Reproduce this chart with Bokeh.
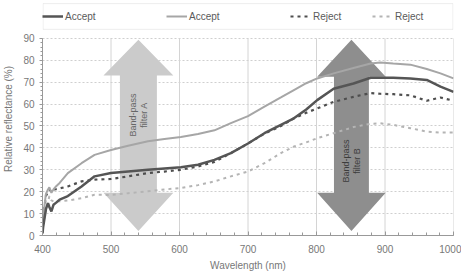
import numpy as np
from bokeh.plotting import figure
from bokeh.models import Range1d, SingleIntervalTicker, FixedTicker, Legend, LegendItem, BoxAnnotation, ColumnDataSource
from bokeh.core.properties import value
from bokeh.embed import file_html
from bokeh.resources import INLINE

# ---- data ----
wavelength = [400, 401, 405, 408, 410, 413, 416, 420, 425, 437, 457, 476, 500, 525, 554, 578,
              602, 627, 651, 675, 700, 724, 748, 767, 785, 801, 825, 854, 879, 893, 912, 937,
              961, 981, 1000]
accept_dark = [1, 4, 12, 14.8, 13, 11, 14, 15, 16.4, 18, 22.4, 27, 28.5, 29.2, 30, 30.6,
               31.2, 32.3, 34.5, 37.6, 42, 46.7, 50.5, 53.5, 57.5, 61.8, 67, 69.4, 72, 72, 72, 71.7,
               71, 68, 65.6]
accept_light = [2, 9, 19, 21, 22, 19.5, 21, 22.5, 24, 28.5, 33, 36.8, 39, 41, 43, 44,
                45, 46.3, 48, 51.3, 54.5, 58.8, 63, 66.4, 69.5, 71.7, 74, 76.5, 78.5, 79, 78.5, 78,
                76, 74, 71.7]
reject_dark = [2, 8.8, 18, 20, 21, 20, 21, 21.2, 21.5, 22.4, 24.7, 25.5, 25.8, 27, 28.5, 29.2,
               30, 31.5, 33.6, 37.6, 42, 46.5, 50, 53.5, 56, 58, 61, 63.3, 65, 64.7, 64.5, 64,
               61.5, 63, 61.5]
reject_light = [1, 5.6, 11.8, 15, 18, 16, 15.6, 15.6, 15.6, 16, 17, 18.6, 18.5, 19.3, 20.2, 21,
                21.7, 23, 24.7, 27, 29.2, 33, 37.6, 40.6, 42.5, 44.4, 46.7, 49.5, 51, 51.2, 50.5, 49,
                47.4, 47, 47]
series_labels = ["Accept", "Accept", "Reject", "Reject"]
x_ticks = [400, 500, 600, 700, 800, 900, 1000]
y_ticks = [0, 10, 20, 30, 40, 50, 60, 70, 80, 90]
arrow_labels = ["Band-pass\nfilter A", "Band-pass\nfilter B"]

FONT = "Liberation Sans"
Y_MIN, Y_MAX = 0, 90
# frame extends above the plot area to hold the legend box
Y_TOP = Y_MAX + 16.36

p = figure(width=461, height=273, x_range=Range1d(400, 1000), y_range=Range1d(Y_MIN, Y_TOP),
           output_backend="svg", toolbar_location=None,
           min_border_left=41, min_border_right=8, min_border_top=2, min_border_bottom=37)
p.outline_line_color = None
p.background_fill_color = "white"
p.border_fill_color = "white"

# grids
p.xgrid.visible = False
p.segment(x0=x_ticks[1:], y0=Y_MIN, x1=x_ticks[1:], y1=Y_MAX, line_color="#d4d4d4", line_width=1)
p.ygrid.grid_line_color = "#cfcfcf"
p.ygrid.grid_line_dash = "2 2"

# axes
p.xaxis.ticker = SingleIntervalTicker(interval=100, num_minor_ticks=5)
p.yaxis.ticker = FixedTicker(ticks=y_ticks, minor_ticks=list(range(Y_MIN, Y_MAX + 1, 2)))
p.yaxis.bounds = (Y_MIN, Y_MAX)
for ax in (p.xaxis, p.yaxis):
    ax.axis_line_color = "#999999"
    ax.major_tick_line_color = "#999999"
    ax.minor_tick_line_color = "#999999"
    ax.major_label_text_color = "#777777"
    ax.major_label_text_font = FONT
    ax.major_label_text_font_size = "10px"
    ax.axis_label_text_color = "#777777"
    ax.axis_label_text_font = FONT
    ax.axis_label_text_font_size = "10px"
    ax.axis_label_text_font_style = "normal"
p.xaxis.major_tick_in = 4
p.xaxis.major_tick_out = 0
p.xaxis.minor_tick_in = 3
p.xaxis.minor_tick_out = 0
p.xaxis.major_label_standoff = 9
p.xaxis.axis_label_standoff = 4
p.yaxis.major_tick_in = 0
p.yaxis.major_tick_out = 3
p.yaxis.minor_tick_in = 0
p.yaxis.minor_tick_out = 2
p.yaxis.major_label_standoff = 5
p.yaxis.axis_label_standoff = 6
p.xaxis.axis_label = "Wavelength (nm)"
p.yaxis.axis_label = "Relative reflectance (%)"


def arrow(cx, hs, hh, top_tip, top_base, bot_base, bot_tip):
    xs = [cx - hh, cx, cx + hh, cx + hs, cx + hs, cx + hh, cx, cx - hh, cx - hs, cx - hs]
    ys = [top_base, top_tip, top_base, top_base, bot_base, bot_base, bot_tip, bot_base, bot_base, top_base]
    return xs, ys

ax_, ay_ = arrow(540, 27, 51, 89.4, 73, 19.5, 2)
bx_, by_ = arrow(851, 25.5, 50, 89.4, 72.5, 19.5, 2)
p.patch(ax_, ay_, fill_color="#cbcbcb", line_color=None)
p.patch(bx_, by_, fill_color="#8e8e8e", line_color=None)

p.text(x=[540], y=[55], text=[arrow_labels[0]], angle=np.pi / 2, text_align="center",
       text_baseline="middle", text_font=value(FONT), text_font_size="9px", text_color="#666666",
       text_line_height=1.1)
p.text(x=[851], y=[34], text=[arrow_labels[1]], angle=np.pi / 2, text_align="center",
       text_baseline="middle", text_font=value(FONT), text_font_size="9px", text_color="#3c3c3c",
       text_line_height=1.1)

src = ColumnDataSource(dict(x=wavelength, ad=accept_dark, al=accept_light, rd=reject_dark, rl=reject_light))
r_rl = p.line("x", "rl", source=src, line_color="#b4b4b4", line_width=2, line_dash="3 4")
r_rd = p.line("x", "rd", source=src, line_color="#4e4e4e", line_width=2.2, line_dash="3 4")
r_al = p.line("x", "al", source=src, line_color="#a6a6a6", line_width=2)
r_ad = p.line("x", "ad", source=src, line_color="#555555", line_width=2.5)

# legend box (in data units of the extended frame)
p.add_layout(BoxAnnotation(left=400.8, right=999.2, bottom=Y_MAX + 4.1, top=Y_TOP - 0.5,
                           fill_alpha=0, line_color="#c4c4c4", line_width=1, level="overlay"))

renderers = [r_ad, r_al, r_rd, r_rl]
offsets = [0, 124, 248, 330]
for lab, r, off in zip(series_labels, renderers, offsets):
    lg = Legend(items=[LegendItem(label=lab, renderers=[r])], location=(off, 213),
                orientation="horizontal", padding=0, margin=0, border_line_color=None,
                background_fill_alpha=0, glyph_width=21, glyph_height=12, label_height=12,
                label_standoff=2, label_text_font=FONT, label_text_font_size="10px",
                label_text_color="#5a5a5a")
    p.add_layout(lg, "center")

open("out.html", "w").write(file_html(p, INLINE))
